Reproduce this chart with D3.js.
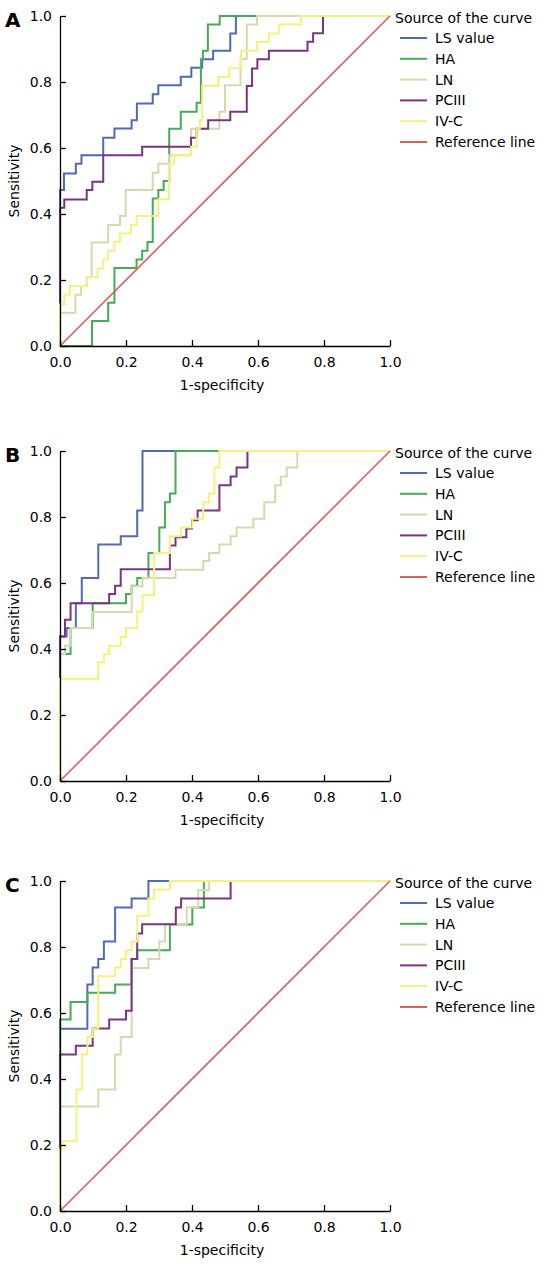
<!DOCTYPE html>
<html><head><meta charset="utf-8">
<script src="https://cdn.jsdelivr.net/npm/d3@7"></script>
<style>body{margin:0;background:#fff}svg{display:block}text{font-family:"DejaVu Sans",sans-serif;fill:#000}</style>
</head><body><svg id="c" width="550" height="1268"></svg>
<script>
const panelLabels = ["A","B","C"];
const seriesNames = ["LS value","HA","LN","PCIII","IV-C"];
const legendTitle = "Source of the curve";
const refName = "Reference line";
const tickValues = [0,0.2,0.4,0.6,0.8,1.0];
const xTitle = "1-specificity", yTitle = "Sensitivity";

// ROC step points [1-specificity, sensitivity] (value reached after each rise)
const A_LS = [[0,0],[0,0.473],[0.012,0.523],[0.048,0.552],[0.065,0.578],[0.131,0.631],[0.165,0.659],[0.217,0.684],[0.233,0.735],[0.281,0.763],[0.298,0.79],[0.366,0.816],[0.398,0.843],[0.431,0.869],[0.464,0.895],[0.516,0.947],[0.533,1],[1,1]];
const A_HA = [[0,0],[0.097,0.076],[0.146,0.131],[0.165,0.236],[0.232,0.262],[0.249,0.289],[0.265,0.315],[0.281,0.447],[0.298,0.473],[0.314,0.5],[0.331,0.658],[0.366,0.71],[0.414,0.737],[0.427,0.869],[0.433,0.895],[0.448,0.974],[0.484,1],[1,1]];
const A_LN = [[0,0],[0,0.101],[0.047,0.155],[0.064,0.182],[0.081,0.208],[0.096,0.314],[0.146,0.367],[0.182,0.394],[0.199,0.473],[0.281,0.525],[0.298,0.552],[0.33,0.578],[0.397,0.658],[0.483,0.71],[0.5,0.79],[0.547,0.87],[0.566,0.974],[0.597,1],[1,1]];
const A_PCIII = [[0,0],[0,0.419],[0.013,0.444],[0.081,0.473],[0.098,0.498],[0.131,0.578],[0.249,0.604],[0.397,0.631],[0.414,0.658],[0.449,0.684],[0.516,0.71],[0.566,0.788],[0.582,0.841],[0.598,0.869],[0.633,0.895],[0.75,0.922],[0.767,0.948],[0.797,1],[1,1]];
const A_IVC = [[0,0],[0,0.126],[0.013,0.155],[0.03,0.182],[0.081,0.208],[0.114,0.235],[0.131,0.262],[0.146,0.289],[0.165,0.315],[0.182,0.341],[0.215,0.367],[0.232,0.394],[0.298,0.445],[0.33,0.552],[0.346,0.578],[0.397,0.604],[0.414,0.658],[0.424,0.684],[0.431,0.789],[0.48,0.816],[0.513,0.842],[0.548,0.895],[0.597,0.921],[0.633,0.947],[0.663,0.974],[0.73,1],[1,1]];

const B_LS = [[0,0],[0,0.438],[0.02,0.464],[0.048,0.539],[0.066,0.615],[0.116,0.717],[0.184,0.742],[0.234,0.82],[0.25,1],[1,1]];
const B_HA = [[0,0],[0,0.385],[0.032,0.464],[0.099,0.539],[0.2,0.567],[0.217,0.592],[0.234,0.615],[0.268,0.691],[0.301,0.768],[0.318,0.845],[0.333,0.871],[0.35,1],[1,1]];
const B_LN = [[0,0],[0,0.385],[0.015,0.41],[0.032,0.464],[0.098,0.512],[0.217,0.59],[0.25,0.615],[0.35,0.64],[0.434,0.667],[0.452,0.691],[0.483,0.717],[0.517,0.742],[0.535,0.768],[0.586,0.795],[0.619,0.845],[0.652,0.896],[0.669,0.923],[0.687,0.95],[0.719,1],[1,1]];
const B_PCIII = [[0,0],[0,0.438],[0.015,0.489],[0.032,0.539],[0.149,0.567],[0.167,0.592],[0.184,0.642],[0.333,0.714],[0.35,0.739],[0.383,0.765],[0.4,0.79],[0.417,0.82],[0.483,0.896],[0.517,0.923],[0.535,0.95],[0.568,1],[1,1]];
const B_IVC = [[0,0],[0,0.31],[0.116,0.36],[0.133,0.385],[0.149,0.41],[0.184,0.436],[0.2,0.464],[0.234,0.514],[0.25,0.563],[0.285,0.691],[0.333,0.742],[0.367,0.768],[0.401,0.795],[0.434,0.845],[0.452,0.871],[0.468,0.95],[0.483,1],[1,1]];

const C_LS = [[0,0],[0,0.552],[0.083,0.686],[0.099,0.738],[0.116,0.764],[0.133,0.817],[0.167,0.92],[0.217,0.947],[0.268,1],[1,1]];
const C_HA = [[0,0],[0,0.58],[0.032,0.633],[0.083,0.661],[0.167,0.686],[0.217,0.764],[0.234,0.79],[0.333,0.868],[0.401,0.92],[0.436,1],[1,1]];
const C_LN = [[0,0],[0,0.317],[0.116,0.368],[0.167,0.474],[0.184,0.527],[0.217,0.736],[0.268,0.764],[0.301,0.817],[0.318,0.869],[0.384,0.92],[0.419,0.973],[0.452,1],[1,1]];
const C_PCIII = [[0,0],[0,0.474],[0.048,0.501],[0.099,0.553],[0.149,0.58],[0.2,0.607],[0.217,0.764],[0.234,0.841],[0.249,0.869],[0.351,0.92],[0.367,0.947],[0.517,1],[1,1]];
const C_IVC = [[0,0],[0,0.186],[0.007,0.211],[0.05,0.368],[0.066,0.474],[0.083,0.527],[0.099,0.552],[0.116,0.711],[0.167,0.738],[0.184,0.764],[0.2,0.79],[0.217,0.817],[0.234,0.895],[0.268,0.947],[0.285,0.974],[0.333,1],[1,1]];

const refLine = [[0,0],[1,1]];

const panelSeries = [
  [A_LS, A_HA, A_LN, A_PCIII, A_IVC],
  [B_LS, B_HA, B_LN, B_PCIII, B_IVC],
  [C_LS, C_HA, C_LN, C_PCIII, C_IVC]
];
const colors = ["#5269b4","#45ab57","#d6d9ae","#7a3580","#f6f17c"];
const refColor = "#d95f5d";

const svg = d3.select("#c");
const panelTops = [16, 451, 881];
const left = 60, W = 330, H = 330;
const fmt = d3.format(".1f");

panelTops.forEach((top, pi) => {
  const g = svg.append("g");
  const x = d3.scaleLinear().domain([0,1]).range([left, left+W]);
  const y = d3.scaleLinear().domain([0,1]).range([top+H, top]);
  const line = d3.line().x(d => x(d[0])).y(d => y(d[1])).curve(d3.curveStepAfter);

  panelSeries[pi].forEach((s, i) => {
    g.append("path").datum(s).attr("d", line)
      .attr("fill","none").attr("stroke", colors[i]).attr("stroke-width", 2)
      .attr("stroke-linejoin","miter").attr("stroke-linecap","square");
  });
  g.append("path").datum(refLine).attr("d", d3.line().x(d=>x(d[0])).y(d=>y(d[1])))
    .attr("fill","none").attr("stroke", refColor).attr("stroke-width", 1.6);

  // axes
  const ax = g.append("g").attr("transform", `translate(0,${top+H})`)
    .call(d3.axisBottom(x).tickValues(tickValues).tickFormat(fmt).tickSizeInner(-6).tickSizeOuter(0).tickPadding(11));
  const ay = g.append("g").attr("transform", `translate(${left},0)`)
    .call(d3.axisLeft(y).tickValues(tickValues).tickFormat(fmt).tickSizeInner(-6).tickSizeOuter(0).tickPadding(8));
  [ax, ay].forEach(a => {
    a.selectAll("text").attr("font-size", 14).attr("font-family", '"DejaVu Sans",sans-serif').attr("fill","#000");
    a.selectAll("line").attr("stroke","#000").attr("stroke-width",1.3);
    a.select(".domain").attr("stroke","#000").attr("stroke-width",1.3);
  });

  g.append("text").attr("x", 222).attr("y", top+H+44).attr("text-anchor","middle")
    .attr("font-size",14).text(xTitle);
  g.append("text").attr("transform", `translate(19,${top+H/2}) rotate(-90)`).attr("text-anchor","middle")
    .attr("font-size",14).text(yTitle);
  g.append("text").attr("x", 5).attr("y", top+11).attr("font-size",20).attr("font-weight","bold")
    .text(panelLabels[pi]);

  // legend
  const lg = g.append("g");
  lg.append("text").attr("x", 395).attr("y", top+7).attr("font-size",14).text(legendTitle);
  const names = seriesNames.concat([refName]);
  const cols = colors.concat([refColor]);
  names.forEach((n, i) => {
    const ly = top + 22 + i*20.8;
    lg.append("line").attr("x1",400).attr("x2",427).attr("y1",ly).attr("y2",ly)
      .attr("stroke", cols[i]).attr("stroke-width", 2);
    lg.append("text").attr("x",435).attr("y",ly+5).attr("font-size",14).text(n);
  });
});
</script></body></html>
